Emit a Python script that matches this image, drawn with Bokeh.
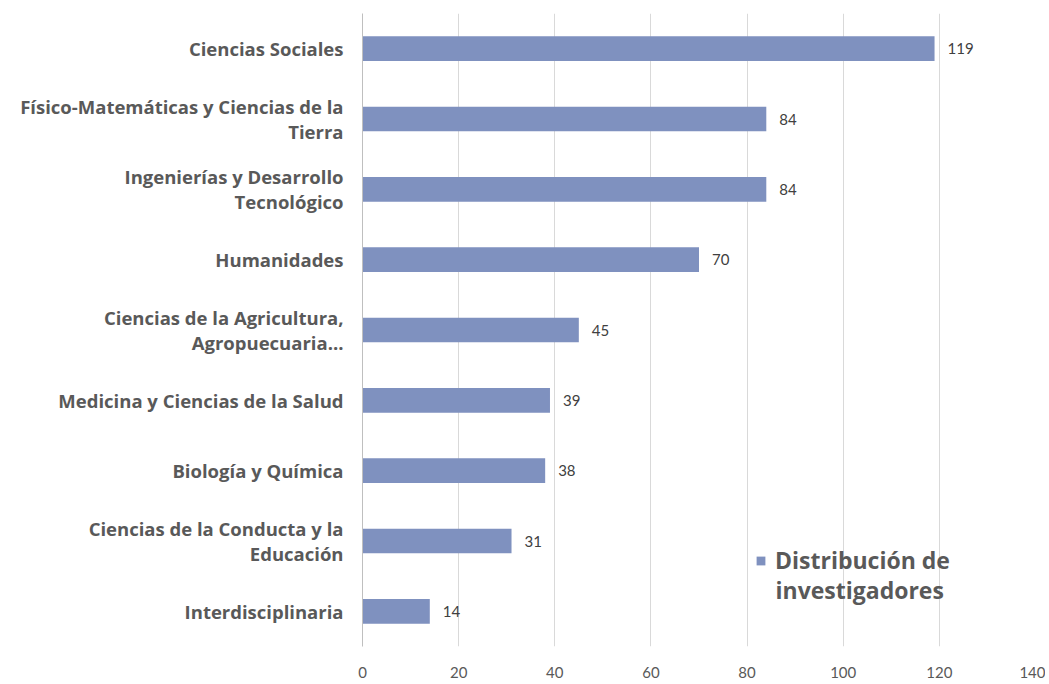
from bokeh.plotting import figure
from bokeh.models import FactorRange, Range1d, ColumnDataSource, Legend, LegendItem, Label
from bokeh.core.properties import value
from bokeh.embed import file_html
from bokeh.resources import INLINE

categories = [
    "Ciencias Sociales",
    "Físico-Matemáticas y Ciencias de la\nTierra",
    "Ingenierías y Desarrollo\nTecnológico",
    "Humanidades",
    "Ciencias de la Agricultura,\nAgropuecuaria...",
    "Medicina y Ciencias de la Salud",
    "Biología y Química",
    "Ciencias de la Conducta y la\nEducación",
    "Interdisciplinaria",
]
values = [119, 84, 84, 70, 45, 39, 38, 31, 14]
x_ticks = [0, 20, 40, 60, 80, 100, 120, 140]
series_name = ["Distribución de", "investigadores"]

BAR = "#7F91BF"
TXT = "#595959"

src = ColumnDataSource(dict(cat=categories, val=values, lbl=[str(v) for v in values]))

W, H = 1045, 680
p = figure(
    width=W, height=H,
    y_range=FactorRange(factors=categories[::-1]),
    x_range=Range1d(0, 140),
    output_backend="svg", toolbar_location=None,
    min_border_left=362, min_border_right=W - 1035, min_border_top=13, min_border_bottom=H - 654,
)
p.outline_line_color = None
p.background_fill_color = "white"
p.border_fill_color = "white"

r = p.hbar(y="cat", left=0, right="val", height=0.35, source=src,
           fill_color=BAR, line_color=None)

p.text(x="val", y="cat", text="lbl", source=src, x_offset=13,
       text_baseline="middle", text_align="left",
       text_font=value("Lato"), text_font_size="15px", text_color="#404040")

# x axis
p.xaxis.ticker = x_ticks
p.xaxis.axis_line_color = None
p.xaxis.major_tick_line_color = None
p.xaxis.minor_tick_line_color = None
p.xaxis.major_label_text_font = "Lato"
p.xaxis.major_label_text_font_size = "15px"
p.xaxis.major_label_text_color = TXT
p.xaxis.major_label_standoff = 14

# y axis
p.yaxis.axis_line_color = "#BFBFBF"
p.yaxis.major_tick_line_color = None
p.yaxis.minor_tick_line_color = None
p.yaxis.major_label_text_font = "Open Sans"
p.yaxis.major_label_text_font_style = "bold"
p.yaxis.major_label_text_font_size = "18.5px"
p.yaxis.major_label_text_line_height = 1.0
p.yaxis.major_label_text_color = TXT
p.yaxis.major_label_standoff = 13

p.xgrid.grid_line_color = "#D9D9D9"
p.ygrid.grid_line_color = None

legend = Legend(items=[LegendItem(label=series_name[0], renderers=[r])],
                location=(393, 70), background_fill_alpha=0, border_line_color=None,
                padding=0, margin=0, label_height=24,
                glyph_width=11, glyph_height=11, label_standoff=9,
                label_text_font="Open Sans", label_text_font_style="bold",
                label_text_font_size="23px", label_text_color=TXT)
p.add_layout(legend)
p.add_layout(Label(x=413, y=41, x_units="screen", y_units="screen",
                   text=series_name[1], text_font="Open Sans", text_font_style="bold",
                   text_font_size="23px", text_color=TXT))

open("out.html", "w").write(file_html(p, INLINE))
